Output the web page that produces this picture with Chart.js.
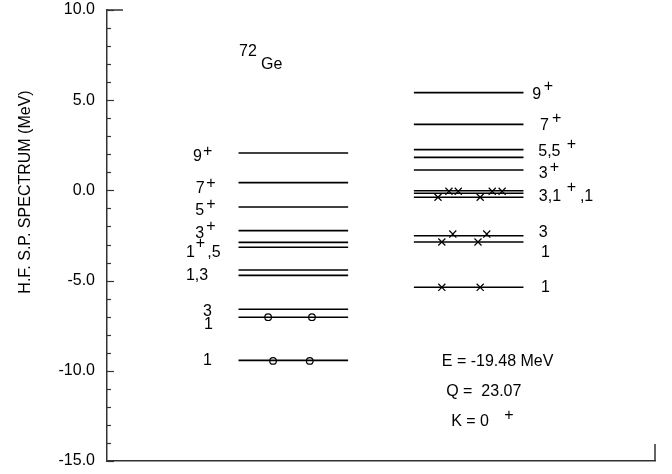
<!DOCTYPE html>
<html>
<head>
<meta charset="utf-8">
<script src="https://cdn.jsdelivr.net/npm/chart.js@4/dist/chart.umd.min.js"></script>
<style>
  html, body { margin: 0; padding: 0; background: #fff; }
  #wrap { width: 672px; height: 474px; }
</style>
</head>
<body>
<div id="wrap"><canvas id="spec"></canvas></div>
<script>
// level energies (MeV) for the two columns
const levelsLeft  = [2.07, 0.43, -0.92, -2.23, -2.88, -3.15, -4.41, -4.71, -6.59, -7.03, -9.42];
const levelsRight = [5.42, 3.66, 2.26, 1.83, 1.13, -0.02, -0.16, -0.38, -2.51, -2.86, -5.37];
const spanLeft  = [2.4, 4.4];
const spanRight = [5.6, 7.6];

// occupied orbitals (o = left, x = right)
const circleX = [2.94, 3.74, 3.03, 3.70];
const circleY = [-7.03, -7.03, -9.45, -9.45];
const crossX = [6.04, 6.24, 6.41, 6.81, 7.03, 7.21, 6.11, 6.31, 6.77, 6.93, 6.11, 6.81];
const crossY = [-0.38, -0.05, -0.05, -0.38, -0.05, -0.05, -2.86, -2.42, -2.86, -2.42, -5.37, -5.37];

// y axis
const yMajor = [-15, -10, -5, 0, 5, 10];
const yTickLabels = ['-15.0', '-10.0', '-5.0', '0.0', '5.0', '10.0'];
const yTitle = 'H.F. S.P. SPECTRUM (MeV)';

// text pieces placed in data units [text, x, y]
const notes = [
  ['9', 1.57, 1.85], ['+', 1.75, 2.13],
  ['7', 1.62, 0.08], ['+', 1.81, 0.35],
  ['5', 1.61, -1.14], ['+', 1.81, -0.81],
  ['3', 1.61, -2.42], ['+', 1.81, -2.03],
  ['1', 1.44, -3.47], ['+', 1.62, -2.97], [',5', 1.83, -3.47],
  ['1,3', 1.44, -4.75],
  ['3', 1.75, -6.74], ['1', 1.77, -7.46],
  ['1', 1.75, -9.46],
  ['9', 7.76, 5.29], ['+', 7.97, 5.74],
  ['7', 7.90, 3.57], ['+', 8.12, 3.96],
  ['5,5', 7.87, 2.13], ['+', 8.39, 2.52],
  ['3', 7.88, 0.91], ['+', 8.08, 1.24],
  ['3,1', 7.88, -0.37], ['+', 8.39, 0.13], [',1', 8.63, -0.37],
  ['3', 7.88, -2.36], ['1', 7.92, -3.42], ['1', 7.92, -5.41],
  ['E = -19.48 MeV', 6.11, -9.51],
  ['Q =  23.07', 6.19, -11.18],
  ['K = 0', 6.28, -12.84], ['+', 7.25, -12.46],
  ['72', 2.41, 7.67], ['Ge', 2.81, 7.00]
];

const FONT = '16px "Liberation Sans", Arial, sans-serif';

const levelSet = (y, span) => ({
  data: [{ x: span[0], y: y }, { x: span[1], y: y }],
  showLine: true,
  borderColor: '#000',
  borderWidth: 1.6,
  pointRadius: 0
});

const datasets = [];
levelsLeft.forEach(v => datasets.push(levelSet(v, spanLeft)));
levelsRight.forEach(v => datasets.push(levelSet(v, spanRight)));
datasets.push({
  data: circleX.map((x, i) => ({ x: x, y: circleY[i] })),
  pointStyle: 'circle', pointRadius: 3.3, borderWidth: 1.2,
  borderColor: '#000', backgroundColor: '#fff'
});
datasets.push({
  data: crossX.map((x, i) => ({ x: x, y: crossY[i] })),
  pointStyle: 'crossRot', pointRadius: 5, borderWidth: 1.2,
  borderColor: '#000'
});

// inward ticks, frame stubs, axis title and text notes
const decor = {
  id: 'decor',
  afterDraw(chart) {
    const { ctx, chartArea: a, scales: { x, y } } = chart;
    ctx.save();
    ctx.strokeStyle = '#333';
    ctx.lineWidth = 1.2;
    y.ticks.forEach(t => {
      const py = Math.round(y.getPixelForValue(t.value)) + 0.5;
      const len = yMajor.includes(t.value) ? 7 : 4;
      ctx.beginPath();
      ctx.moveTo(a.left, py);
      ctx.lineTo(a.left + len, py);
      ctx.stroke();
    });
    ctx.lineWidth = 1.5;
    ctx.beginPath();
    ctx.moveTo(a.left, a.top);
    ctx.lineTo(a.left + 16, a.top);
    ctx.moveTo(a.right, a.bottom);
    ctx.lineTo(a.right, a.bottom - 17);
    ctx.stroke();

    ctx.fillStyle = '#000';
    ctx.font = FONT;
    ctx.textBaseline = 'middle';
    ctx.textAlign = 'left';
    notes.forEach(n => {
      ctx.fillText(n[0], x.getPixelForValue(n[1]), y.getPixelForValue(n[2]));
    });

    ctx.translate(26, 192);
    ctx.rotate(-Math.PI / 2);
    ctx.textAlign = 'center';
    ctx.fillText(yTitle, 0, 0);
    ctx.restore();
  }
};

new Chart(document.getElementById('spec'), {
  type: 'scatter',
  data: { datasets: datasets },
  options: {
    responsive: true,
    maintainAspectRatio: false,
    animation: false,
    events: [],
    layout: { padding: { top: 10, right: 17, left: 0, bottom: 0 } },
    plugins: { legend: { display: false }, tooltip: { enabled: false } },
    scales: {
      x: {
        type: 'linear', min: 0, max: 10,
        ticks: { display: false },
        grid: { display: false, drawTicks: false },
        border: { display: true, color: '#333', width: 1.5 },
        afterFit: s => { s.height = 13; }
      },
      y: {
        type: 'linear', min: -15, max: 10,
        ticks: {
          stepSize: 1, autoSkip: false, padding: 12, color: '#000',
          font: { family: '"Liberation Sans", Arial, sans-serif', size: 16 },
          callback: v => {
            const i = yMajor.indexOf(v);
            return i >= 0 ? yTickLabels[i] : '';
          }
        },
        grid: { display: false, drawTicks: false },
        border: { display: true, color: '#333', width: 1.5 },
        afterFit: s => { s.width = 107; s.paddingTop = 0; s.paddingBottom = 0; }
      }
    }
  },
  plugins: [decor]
});
</script>
</body>
</html>
